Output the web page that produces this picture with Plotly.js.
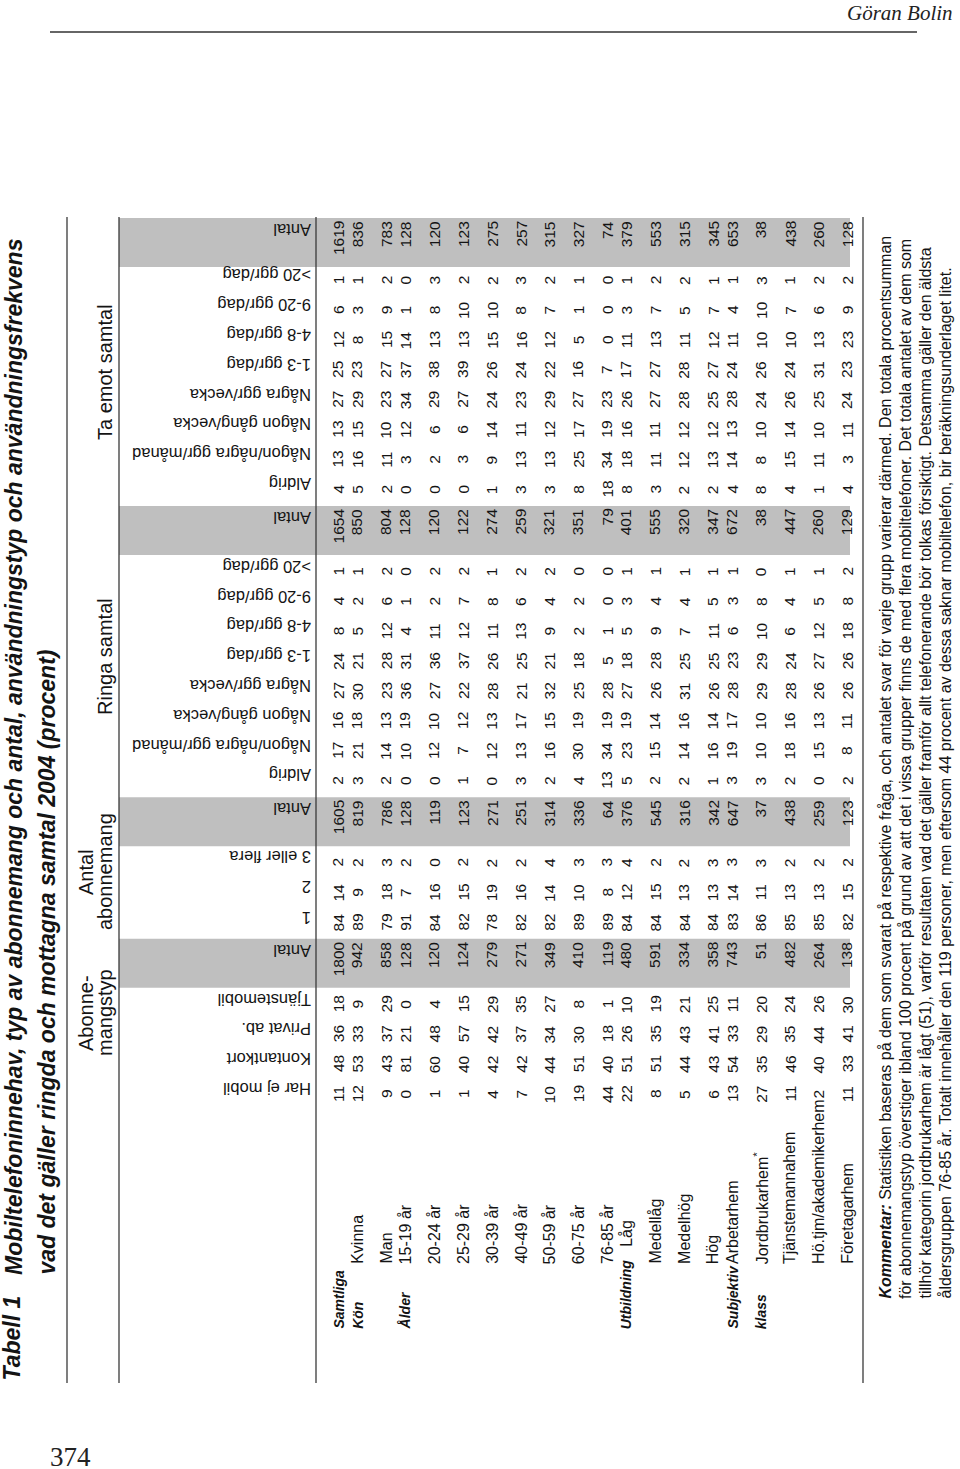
<!DOCTYPE html>
<html><head><meta charset="utf-8">
<script src="https://cdn.plot.ly/plotly-3.0.1.min.js"></script>
<style>html,body{margin:0;padding:0;background:#fff}</style>
</head><body><div id="chart" style="width:960px;height:1469px"></div>
<script>
// ---------------- DATA ----------------
const rowLabels = ["", "Kvinna", "Man", "15-19 år", "20-24 år", "25-29 år", "30-39 år", "40-49 år", "50-59 år", "60-75 år", "76-85 år", "Låg", "Medellåg", "Medelhög", "Hög", "Arbetarhem", "Jordbrukarhem<sup>*</sup>", "Tjänstemannahem", "Hö.tjm/akademikerhem", "Företagarhem"];
const rowGroupLabels = ["Samtliga", "Kön", "", "Ålder", "", "", "", "", "", "", "", "Utbildning", "", "", "", "Subjektiv", "klass", "", "", ""];
const rowGroupIndex = [0, 1, 1, 2, 2, 2, 2, 2, 2, 2, 2, 3, 3, 3, 3, 4, 4, 4, 4, 4];

const abonTypLabels = ["Har ej mobil", "Kontantkort", "Privat ab.", "Tjänstemobil"];
const antalAbonLabels = ["1", "2", "3 eller flera"];
const freqLabels = ["Aldrig", "Någon/några ggr/månad", "Någon gång/vecka", "Några ggr/vecka", "1-3 ggr/dag", "4-8 ggr/dag", "9-20 ggr/dag", ">20 ggr/dag"];
const antalLabel = "Antal";

const abonTyp = [
  [11,48,36,18],[12,53,33,9],[9,43,37,29],[0,81,21,0],[1,60,48,4],[1,40,57,15],[4,42,42,29],[7,42,37,35],[10,44,34,27],[19,51,30,8],
  [44,40,18,1],[22,51,26,10],[8,51,35,19],[5,44,43,21],[6,43,41,25],[13,54,33,11],[27,35,29,20],[11,46,35,24],[2,40,44,26],[11,33,41,30]
];
const abonN = [1800,942,858,128,120,124,279,271,349,410,119,480,591,334,358,743,51,482,264,138];
const antalAbon = [
  [84,14,2],[89,9,2],[79,18,3],[91,7,2],[84,16,0],[82,15,2],[78,19,2],[82,16,2],[82,14,4],[89,10,3],
  [89,8,3],[84,12,4],[84,15,2],[84,13,2],[84,13,3],[83,14,3],[86,11,3],[85,13,2],[85,13,2],[82,15,2]
];
const ringaN = [1605,819,786,128,119,123,271,251,314,336,64,376,545,316,342,647,37,438,259,123];
const ringa = [
  [2,17,16,27,24,8,4,1],[3,21,18,30,21,5,2,1],[2,14,13,23,28,12,6,2],[0,10,19,36,31,4,1,0],[0,12,10,27,36,11,2,2],
  [1,7,12,22,37,12,7,2],[0,12,13,28,26,11,8,1],[3,13,17,21,25,13,6,2],[2,16,15,32,21,9,4,2],[4,30,19,25,18,2,2,0],
  [13,34,19,28,5,1,0,0],[5,23,19,27,18,5,3,1],[2,15,14,26,28,9,4,1],[2,14,16,31,25,7,4,1],[1,16,14,26,25,11,5,1],
  [3,19,17,28,23,6,3,1],[3,10,10,29,29,10,8,0],[2,18,16,28,24,6,4,1],[0,15,13,26,27,12,5,1],[2,8,11,26,26,18,8,2]
];
const emotN = [1654,850,804,128,120,122,274,259,321,351,79,401,555,320,347,672,38,447,260,129];
const emot = [
  [4,13,13,27,25,12,6,1],[5,16,15,29,23,8,3,1],[2,11,10,23,27,15,9,2],[0,3,12,34,37,14,1,0],[0,2,6,29,38,13,8,3],
  [0,3,6,27,39,13,10,2],[1,9,14,24,26,15,10,2],[3,13,11,23,24,16,8,3],[3,13,12,29,22,12,7,2],[8,25,17,27,16,5,1,1],
  [18,34,19,23,7,0,0,0],[8,18,16,26,17,11,3,1],[3,11,11,27,27,13,7,2],[2,12,12,28,28,11,5,2],[2,13,12,25,27,12,7,1],
  [4,14,13,28,24,11,4,1],[8,8,10,24,26,10,10,3],[4,15,14,26,24,10,7,1],[1,11,10,25,31,13,6,2],[4,3,11,24,23,23,9,2]
];
const emotTotalN = [1619,836,783,128,120,123,275,257,315,327,74,379,553,315,345,653,38,438,260,128];

const groupHeaders = [["Abonne-", "mangstyp"], ["Antal", "abonnemang"], ["Ringa samtal"], ["Ta emot samtal"]];
const titleNumber = "Tabell 1";
const titleLines = ["Mobiltelefoninnehav, typ av abonnemang och antal, användningstyp och användningsfrekvens",
                    "vad det gäller ringda och mottagna samtal 2004 (procent)"];
const runningHead = "Göran Bolin";
const pageNumber = "374";
const commentLines = [
  "<b><i>Kommentar:</i></b> Statistiken baseras på dem som svarat på respektive fråga, och antalet svar för varje grupp varierar därmed. Den totala procentsumman",
  "för abonnemangstyp överstiger ibland 100 procent på grund av att det i vissa grupper finns de med flera mobiltelefoner. Det totala antalet av dem som",
  "tillhör kategorin jordbrukarhem är lågt (51), varför resultaten vad det gäller framför allt telefonerande bör tolkas försiktigt. Detsamma gäller den äldsta",
  "åldersgruppen 76-85 år. Totalt innehåller den 119 personer, men eftersom 44 procent av dessa saknar mobiltelefon, bir beräkningsunderlaget litet."
];

// ---------------- LAYOUT HELPERS ----------------
const SANS = "Liberation Sans, Arial, Helvetica, sans-serif";
const SERIF = "Liberation Serif, Times New Roman, serif";
const INK = "#141414";
const GRAY = "#bfbfbf";
const RULE = "#3a3a3a";

const ROW0 = 338, ROW_PITCH = 28.8, GROUP_SHIFT = -9.5;
function rowX(i) { return ROW0 + ROW_PITCH * i + GROUP_SHIFT * rowGroupIndex[i]; }

const cols = [];
abonTypLabels.forEach(l => cols.push({label: l, antal: false}));
cols.push({label: antalLabel, antal: true});
antalAbonLabels.forEach(l => cols.push({label: l, antal: false}));
cols.push({label: antalLabel, antal: true});
freqLabels.forEach(l => cols.push({label: l, antal: false}));
cols.push({label: antalLabel, antal: true});
freqLabels.forEach(l => cols.push({label: l, antal: false}));
cols.push({label: antalLabel, antal: true});

const TOP_Y = 217, BOT_Y = 1383;
const COL_W = 29.9, ANTAL_W = 52, COL_START = 1094;
let cursor = COL_START + COL_W / 2;
cols.forEach(c => {
  const w = c.antal ? ANTAL_W : COL_W;
  c.bottom = cursor; c.top = cursor - w; c.center = cursor - w / 2;
  c.bandTop = Math.max(c.top + 1.5, TOP_Y + 1);
  c.bandBottom = Math.max(c.bottom - 1.5, c.bandTop + 49);
  cursor -= w;
});

const LINE_X = [67, 119, 316, 863];
const HEAD_RIGHT = 313, BAND_X0 = 119, BAND_X1 = 850;
const GROUP_HEAD_Y = [1013, 872, 657, 372];
const GROUP_LINE_X = [[86, 105], [86, 105], [105], [105]];

const shapes = [];
const annotations = [];
function ann(x, y, text, o) {
  annotations.push(Object.assign({
    x: x, y: y, xref: "x", yref: "y", text: text, showarrow: false,
    xanchor: "center", yanchor: "middle", textangle: -90,
    font: {family: SANS, size: 15.5, color: INK}
  }, o || {}));
}

cols.forEach(c => {
  if (c.antal) {
    shapes.push({type: "rect", xref: "x", yref: "y", x0: BAND_X0, x1: BAND_X1, y0: c.bandTop, y1: c.bandBottom,
      fillcolor: GRAY, line: {width: 0}, layer: "below"});
  }
});
LINE_X.forEach(x => shapes.push({type: "line", xref: "x", yref: "y", x0: x, x1: x, y0: TOP_Y, y1: BOT_Y,
  line: {color: RULE, width: 1.3}}));
shapes.push({type: "line", xref: "x", yref: "y", x0: 50, x1: 917, y0: 32, y1: 32, line: {color: "#333", width: 1.6}});

// column header labels (upside down)
const HEAD_FONT = {family: SANS, size: 16.5, color: INK};
cols.forEach(c => {
  if (c.antal) ann(HEAD_RIGHT, c.bandTop + 1, c.label, {textangle: 180, xanchor: "right", yanchor: "top", font: HEAD_FONT});
  else ann(HEAD_RIGHT, c.center - 5, c.label, {textangle: 180, xanchor: "right", yanchor: "middle", font: HEAD_FONT});
});

// group headers
groupHeaders.forEach((lines, k) => {
  lines.forEach((t, m) => ann(GROUP_LINE_X[k][m], GROUP_HEAD_Y[k], t, {font: {family: SANS, size: 20, color: INK}}));
});

// data cells and row labels
const ROW_LABEL_Y = 1266, GROUP_LABEL_Y = 1331;
for (let i = 0; i < rowLabels.length; i++) {
  const vals = [].concat(abonTyp[i], [abonN[i]], antalAbon[i], [ringaN[i]], ringa[i], [emotN[i]], emot[i], [emotTotalN[i]]);
  const x = rowX(i);
  vals.forEach((v, j) => {
    const c = cols[j];
    if (c.antal) ann(x, c.bandTop + 1, String(v), {yanchor: "top"});
    else ann(x, c.center, String(v));
  });
  const labelBottom = rowGroupLabels[i] === "Utbildning" ? ROW_LABEL_Y - 17 : ROW_LABEL_Y;
  if (rowLabels[i]) ann(x, labelBottom, rowLabels[i], {yanchor: "bottom", font: {family: SANS, size: 16, color: INK}});
  if (rowGroupLabels[i]) ann(x, GROUP_LABEL_Y, "<b><i>" + rowGroupLabels[i] + "</i></b>", {yanchor: "bottom", font: {family: SANS, size: 14, color: INK}});
}

// title
const TITLE_FONT = {family: SANS, size: 23, color: INK};
ann(11, 1383, "<b><i>" + titleNumber + "</i></b>", {yanchor: "bottom", font: TITLE_FONT});
ann(14, 1277, "<b><i>" + titleLines[0] + "</i></b>", {yanchor: "bottom", font: TITLE_FONT});
ann(46, 1277, "<b><i>" + titleLines[1] + "</i></b>", {yanchor: "bottom", font: TITLE_FONT});

// comment
const COMMENT_X0 = 885, COMMENT_PITCH = 20;
commentLines.forEach((t, k) => ann(COMMENT_X0 + k * COMMENT_PITCH, 1301, t, {yanchor: "bottom", font: {family: SANS, size: 16, color: INK}}));

// running head & page number
ann(955, 13, "<i>" + runningHead + "</i>", {textangle: 0, xanchor: "right", font: {family: SERIF, size: 21, color: "#222"}});
ann(70, 1457, pageNumber, {textangle: 0, font: {family: SERIF, size: 27, color: "#222"}});

const layout = {
  width: 960, height: 1469,
  margin: {l: 0, r: 0, t: 0, b: 0, pad: 0},
  paper_bgcolor: "#fff", plot_bgcolor: "#fff",
  showlegend: false,
  xaxis: {range: [0, 960], visible: false, fixedrange: true},
  yaxis: {range: [1469, 0], visible: false, fixedrange: true},
  shapes: shapes,
  annotations: annotations
};
Plotly.newPlot("chart", [{type: "scatter", x: [0], y: [0], mode: "markers", marker: {opacity: 0}, hoverinfo: "skip"}], layout, {staticPlot: true, displayModeBar: false});
</script>
</body></html>
